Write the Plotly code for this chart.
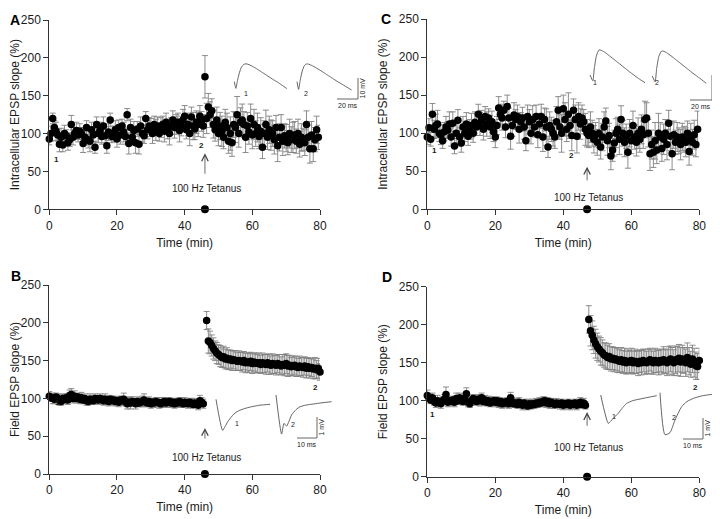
import plotly.graph_objects as go

# The page body adds an 8 px margin, so the figure is drawn 8 px in from the window corner.
OFF = 8
W, H = 720 - OFF, 519 - OFF
FONT = "Liberation Sans, Arial, sans-serif"

# ---------------- data (time step 0.5 min) ----------------
STEP = 0.5

# Panel A: intracellular EPSP slope (%), from t = 0
A_START = 0.0
A_SLOPE = [
    93, 100, 120, 108, 103, 98, 86, 95, 85, 100, 97, 88, 92, 112, 95, 100, 104, 98, 103, 100,
    87, 95, 108, 92, 90, 105, 98, 82, 112, 100, 104, 96, 110, 97, 84, 102, 118, 96, 100, 105,
    93, 108, 98, 110, 102, 96, 125, 87, 108, 95, 104, 88, 106, 86, 110, 100, 97, 120, 105, 110,
    108, 100, 112, 105, 110, 100, 108, 112, 103, 115, 106, 100, 110, 118, 108, 112, 115, 104, 110, 118,
    123, 105, 112, 100, 122, 110, 106, 115, 112, 123, 116, 110, 175, 120, 135, 125, 130, 112, 105, 118,
    100, 110, 103, 95, 115, 108, 90, 100, 88, 112, 108, 125, 100, 115, 118, 112, 95, 110, 102, 120,
    98, 112, 100, 108, 96, 103, 82, 100, 112, 95, 105, 98, 100, 92, 108, 84, 95, 108, 90, 97,
    94, 88, 100, 92, 95, 98, 90, 100, 86, 95, 92, 88, 112, 95, 80, 98, 80, 92, 105, 95,
]
A_SEM = [
    8, 10, 7, 9, 12, 8, 10, 12, 9, 11, 8, 10, 9, 12, 10, 8, 11, 9, 10, 8,
    12, 10, 9, 11, 14, 10, 9, 8, 10, 12, 11, 10, 12, 9, 10, 11, 9, 8, 10, 12,
    11, 10, 12, 9, 13, 10, 8, 14, 11, 10, 12, 14, 10, 13, 12, 11, 10, 9, 12, 11,
    12, 13, 11, 14, 12, 10, 13, 11, 14, 12, 13, 15, 11, 12, 14, 13, 12, 15, 13, 14,
    14, 12, 15, 16, 13, 18, 14, 15, 16, 14, 13, 15, 28, 20, 18, 17, 16, 18, 15, 17,
    16, 18, 20, 15, 17, 19, 16, 22, 18, 17, 20, 24, 18, 19, 21, 17, 20, 18, 16, 19,
    18, 20, 17, 19, 16, 18, 15, 17, 19, 16, 18, 20, 17, 19, 16, 21, 18, 17, 19, 16,
    18, 16, 19, 17, 20, 18, 16, 19, 17, 18, 15, 17, 18, 16, 19, 18, 17, 16, 18, 16,
]

# Panel C: intracellular EPSP slope (%), from t = 0
C_START = 0.0
C_SLOPE = [
    95, 107, 92, 125, 105, 110, 112, 100, 98, 90, 102, 108, 104, 112, 95, 113, 83, 100, 117, 95,
    87, 108, 100, 112, 96, 105, 110, 100, 114, 108, 125, 112, 118, 105, 122, 112, 120, 108, 115, 102,
    95, 110, 133, 125, 120, 130, 108, 135, 120, 96, 110, 124, 118, 122, 105, 115, 120, 108, 90, 122,
    115, 100, 118, 108, 122, 98, 112, 122, 95, 118, 108, 82, 110, 105, 100, 95, 115, 130, 108, 100,
    132, 118, 105, 125, 110, 97, 130, 118, 96, 122, 112, 120, 115, 105, 100, 97, 108, 100, 92, 98,
    88, 100, 82, 95, 108, 116, 90, 97, 70, 78, 87, 100, 105, 92, 118, 100, 88, 96, 75, 100,
    90, 110, 95, 88, 100, 92, 105, 98, 118, 120, 100, 73, 85, 75, 90, 78, 100, 95, 80, 92,
    100, 85, 113, 96, 73, 98, 88, 95, 90, 85, 95, 92, 88, 100, 76, 93, 88, 98, 85, 105,
]
C_SEM = [
    10, 12, 9, 14, 12, 15, 18, 11, 13, 10, 12, 14, 11, 16, 12, 15, 10, 13, 14, 12,
    12, 14, 11, 15, 12, 13, 16, 12, 14, 11, 13, 15, 12, 14, 13, 16, 12, 15, 14, 13,
    14, 12, 15, 13, 16, 12, 14, 15, 13, 17, 14, 16, 13, 15, 18, 12, 14, 16, 13, 15,
    16, 14, 18, 13, 15, 17, 14, 16, 19, 15, 24, 14, 18, 16, 17, 15, 20, 18, 16, 25,
    18, 22, 16, 28, 17, 20, 15, 19, 22, 18, 20, 17, 16, 21, 18, 16, 20, 17, 18, 16,
    17, 19, 16, 18, 20, 17, 19, 16, 18, 15, 17, 19, 16, 20, 18, 17, 19, 16, 21, 18,
    17, 19, 16, 18, 20, 17, 19, 18, 24, 20, 18, 22, 19, 20, 24, 18, 26, 19, 17, 20,
    18, 20, 17, 19, 21, 18, 16, 19, 17, 20, 18, 17, 19, 16, 18, 20, 17, 19, 16, 24,
]

# Panel B: field EPSP slope (%), before / after tetanus
B_PRE_START = 0.0
B_PRE = [
    103, 101, 100, 99, 102, 100, 98, 96, 100, 99, 101, 98, 104, 105, 100, 103, 100, 102, 99, 101,
    98, 100, 97, 96, 99, 98, 97, 100, 99, 98, 100, 99, 97, 99, 98, 96, 99, 97, 98, 96,
    97, 95, 98, 97, 99, 96, 93, 95, 94, 96, 95, 93, 96, 94, 95, 96, 98, 95, 94, 96,
    93, 95, 94, 96, 95, 94, 93, 95, 96, 94, 95, 96, 94, 95, 93, 95, 94, 96, 95, 93,
    95, 94, 93, 95, 94, 92, 94, 93, 91, 97, 95, 93,
]
B_PRE_SEM = [
    6, 5, 7, 6, 5, 6, 7, 5, 6, 6, 5, 6, 7, 8, 6, 7, 6, 5, 6, 7,
    5, 6, 6, 5, 7, 6, 5, 6, 5, 6, 6, 5, 6, 7, 5, 6, 5, 6, 5, 6,
    5, 6, 5, 6, 8, 6, 7, 6, 8, 6, 5, 7, 6, 5, 6, 7, 8, 6, 5, 6,
    6, 5, 6, 5, 6, 7, 5, 6, 5, 6, 6, 5, 6, 5, 6, 5, 6, 5, 6, 5,
    6, 5, 6, 5, 6, 5, 6, 5, 6, 7, 6, 6,
]
B_POST_START = 46.5
B_POST = [
    203, 176, 174, 170, 166, 163, 160, 158, 156, 154, 155, 152, 153, 151, 152, 150, 151, 150, 149, 150,
    149, 148, 150, 147, 148, 147, 149, 146, 148, 147, 146, 147, 145, 147, 146, 145, 147, 145, 144, 146,
    145, 144, 146, 145, 143, 145, 144, 146, 143, 144, 142, 143, 144, 142, 141, 143, 142, 141, 143, 140,
    142, 140, 141, 139, 140, 138, 140, 135,
]
B_POST_SEM = [
    12, 16, 15, 14, 14, 13, 14, 13, 14, 13, 14, 13, 14, 13, 12, 13, 12, 13, 12, 13,
    12, 13, 12, 13, 12, 13, 12, 13, 12, 13, 12, 13, 12, 13, 12, 13, 12, 13, 12, 13,
    12, 13, 12, 13, 12, 13, 14, 13, 14, 13, 12, 13, 12, 13, 12, 13, 12, 13, 12, 13,
    12, 13, 12, 13, 14, 12, 13, 11,
]

# Panel D: field EPSP slope (%), before / after tetanus
D_PRE_START = 0.0
D_PRE = [
    107, 103, 101, 104, 99, 97, 100, 98, 96, 100, 102, 108, 98, 100, 99, 101, 98, 103, 100, 104,
    101, 99, 103, 109, 98, 96, 100, 103, 101, 99, 102, 100, 104, 99, 101, 98, 100, 97, 99, 100,
    98, 100, 97, 99, 96, 98, 97, 99, 96, 104, 98, 96, 97, 95, 98, 96, 94, 97, 95, 93,
    96, 94, 96, 95, 97, 96, 98, 97, 99, 100, 97, 99, 96, 98, 96, 95, 97, 96, 95, 97,
    94, 96, 95, 97, 94, 96, 95, 97, 94, 96, 98, 95, 97, 94,
]
D_PRE_SEM = [
    7, 6, 5, 6, 5, 6, 7, 5, 6, 5, 6, 10, 6, 5, 6, 5, 6, 7, 5, 6,
    6, 5, 6, 8, 6, 5, 6, 5, 6, 5, 6, 7, 6, 5, 6, 5, 6, 5, 6, 5,
    6, 5, 6, 5, 6, 5, 6, 5, 6, 7, 6, 5, 6, 5, 6, 5, 6, 5, 6, 5,
    6, 5, 6, 5, 6, 5, 6, 5, 6, 5, 6, 5, 6, 5, 6, 5, 6, 5, 6, 5,
    6, 5, 6, 5, 6, 5, 6, 5, 6, 5, 6, 5, 6, 5,
]
D_POST_START = 47.5
D_POST = [
    207, 192, 186, 180, 175, 171, 168, 165, 163, 160, 159, 157, 158, 155, 156, 154, 155, 153, 152, 154,
    151, 153, 150, 152, 151, 153, 150, 152, 151, 149, 152, 150, 153, 151, 150, 152, 154, 151, 150, 153,
    152, 150, 153, 151, 154, 152, 150, 153, 155, 152, 150, 154, 152, 156, 151, 155, 153, 150, 157, 152,
    148, 155, 150, 146, 145, 153,
]
D_POST_SEM = [
    18, 20, 19, 18, 19, 18, 17, 18, 17, 16, 17, 16, 17, 16, 15, 16, 15, 16, 15, 16,
    15, 16, 15, 16, 15, 16, 15, 16, 15, 16, 15, 16, 15, 16, 15, 16, 15, 16, 15, 16,
    15, 16, 15, 16, 17, 16, 17, 18, 17, 18, 17, 18, 19, 18, 19, 18, 17, 18, 19, 18,
    17, 18, 19, 18, 17, 16,
]

TETANUS_TIME = {"A": 46, "B": 46, "C": 47, "D": 47}

X_TICKS = [0, 20, 40, 60, 80]
Y_TICKS = [0, 50, 100, 150, 200, 250]
Y_TITLE_TOP = "Intracellular EPSP slope (%)"
Y_TITLE_BOTTOM = "Field EPSP slope (%)"
X_TITLE = "Time (min)"

# Example traces (time in ms, potential in mV)
A1_T = [0, 1.5, 3, 5, 7, 9, 11, 14, 18, 22, 26, 30, 34, 38, 42, 46, 50]
A1_MV = [3.5, 0.3, 4, 8, 10.6, 11.7, 12, 11.6, 10.6, 9.4, 8.1, 6.8, 5.5, 4.2, 3, 1.6, 0.2]
A2_T = [0, 1.5, 3, 5, 7, 9, 11, 14, 18, 22, 26, 30, 34, 38, 42, 47, 52]
A2_MV = [4, 0.3, 4.5, 9, 11.6, 12.4, 12.3, 11.7, 10.6, 9.4, 8.1, 6.8, 5.5, 4.2, 3, 1.5, 0]
C1_T = [0, 2.5, 4, 6, 8.2, 10, 13, 17, 21, 25, 29, 33, 37, 41, 45, 50]
C1_MV = [3.1, 0.8, 6, 11, 13.1, 13, 12.3, 11, 9.6, 8.2, 6.8, 5.4, 4, 2.7, 1.4, 0]
C2_T = [0, 2.5, 4, 6, 8.5, 10.5, 13, 17, 21, 25, 29, 33, 37, 41, 45, 49]
C2_MV = [2.9, 0.6, 6, 10.8, 12.9, 12.8, 12.2, 11, 9.6, 8.2, 6.8, 5.4, 4, 2.7, 1.4, 0]
B1_T = [0, 3.3, 4.5, 6, 8, 10, 12.5, 15, 18.5, 22, 27]
B1_MV = [0, -1.48, -1.3, -1.05, -0.8, -0.62, -0.5, -0.42, -0.34, -0.28, -0.24]
B2_T = [0, 2.8, 4, 5.3, 6.5, 7.8, 10, 12, 15, 18.7, 23, 27.8]
B2_MV = [0, -1.86, -1.35, -1.48, -1.25, -0.95, -0.7, -0.56, -0.48, -0.43, -0.37, -0.32]
D1_T = [0, 3.8, 5, 6.3, 8.8, 11, 13, 16, 21.3, 28]
D1_MV = [0, -1.35, -1.25, -1.11, -0.87, -0.6, -0.4, -0.27, -0.16, -0.03]
D2_T = [0, 2.5, 5, 7.5, 10.8, 13.5, 16.7, 21, 27.5]
D2_MV = [0, -2.0, -1.9, -1.3, -0.67, -0.42, -0.27, -0.15, -0.06]

SCALE_A = (20, 10, "20 ms", "10 mV")
SCALE_C = (20, 10, "20 ms", "10 mV")
SCALE_B = (10, 1, "10 ms", "1 mV")
SCALE_D = (10, 1, "10 ms", "1 mV")

# ---------------- layout helpers (positions given in window pixels) ----------------
def pxx(px):
    return min(max((px - OFF) / W, 0.0), 1.0)


def pxy(py):
    return min(max(1 - (py - OFF) / H, 0.0), 1.0)


fig = go.Figure()

AX_COLOR = "#333333"
TXT = "#1a1a1a"

# main panels: (xaxis id, yaxis id, x px range, y px range (bottom, top), y title)
MAIN = {
    "A": ("x", "y", (49.3, 320.0), (209.3, 20.0), Y_TITLE_TOP),
    "B": ("x2", "y2", (49.3, 320.0), (474.0, 285.0), Y_TITLE_BOTTOM),
    "C": ("x3", "y3", (427.3, 699.3), (209.3, 19.0), Y_TITLE_TOP),
    "D": ("x4", "y4", (427.3, 699.3), (476.7, 286.7), Y_TITLE_BOTTOM),
}

layout_axes = {}
for key, (xa, ya, (xl, xr), (yb, yt), ytitle) in MAIN.items():
    xn = "xaxis" + xa[1:]
    yn = "yaxis" + ya[1:]
    common = dict(
        showline=True, linecolor=AX_COLOR, linewidth=1, ticks="outside", ticklen=5,
        tickcolor=AX_COLOR, tickwidth=1, showgrid=False, zeroline=False, automargin=False,
        tickfont=dict(size=12, color=TXT, family=FONT), fixedrange=True,
    )
    layout_axes[xn] = dict(common, domain=[pxx(xl), pxx(xr)], range=[0, 80], tickvals=X_TICKS,
                           anchor=ya, title=dict(text=X_TITLE, font=dict(size=12, color=TXT), standoff=6))
    layout_axes[yn] = dict(common, domain=[pxy(yb), pxy(yt)], range=[0, 250], tickvals=Y_TICKS,
                           anchor=xa, title=dict(text=ytitle, font=dict(size=12, color=TXT), standoff=8))
fig.update_layout(**layout_axes)


def series(start, vals):
    return [start + STEP * i for i in range(len(vals))]


def add_points(xa, ya, start, vals, sem):
    fig.add_trace(go.Scatter(
        x=series(start, vals), y=vals, mode="markers", xaxis=xa, yaxis=ya,
        marker=dict(color="black", size=7.5),
        error_y=dict(type="data", array=sem, color="#808080", thickness=0.9, width=3),
        cliponaxis=False, showlegend=False, hoverinfo="skip"))


add_points("x", "y", A_START, A_SLOPE, A_SEM)
add_points("x3", "y3", C_START, C_SLOPE, C_SEM)
add_points("x2", "y2", B_PRE_START, B_PRE, B_PRE_SEM)
add_points("x2", "y2", B_POST_START, B_POST, B_POST_SEM)
add_points("x4", "y4", D_PRE_START, D_PRE, D_PRE_SEM)
add_points("x4", "y4", D_POST_START, D_POST, D_POST_SEM)

# tetanus marker on the time axis
for key in "ABCD":
    xa, ya = MAIN[key][0], MAIN[key][1]
    fig.add_trace(go.Scatter(x=[TETANUS_TIME[key]], y=[0], mode="markers", xaxis=xa, yaxis=ya,
                             marker=dict(color="black", size=8), cliponaxis=False,
                             showlegend=False, hoverinfo="skip"))

# ---------------- inset example traces ----------------
inset_n = [4]


def add_inset(origin, ppx, ppy, width_px, up_px, down_px):
    inset_n[0] += 1
    n = inset_n[0]
    x0, y0 = origin
    width_px = min(width_px, 720 - x0 - 0.5)
    fig.update_layout({
        f"xaxis{n}": dict(domain=[pxx(x0 - 2), pxx(x0 + width_px)], range=[-2 / ppx, width_px / ppx],
                          visible=False, anchor=f"y{n}", fixedrange=True, automargin=False),
        f"yaxis{n}": dict(domain=[pxy(y0 + down_px), pxy(y0 - up_px)], range=[-down_px / ppy, up_px / ppy],
                          visible=False, anchor=f"x{n}", fixedrange=True, automargin=False),
    })
    return f"x{n}", f"y{n}"


TRACE_LINE = dict(color="#555555", width=0.9, shape="spline", smoothing=0.6)


def add_wave(t, mv, origin, ppx, ppy):
    xa, ya = add_inset(origin, ppx, ppy, max(t) * ppx + 3, 40, 50)
    fig.add_trace(go.Scatter(x=t, y=mv, mode="lines", xaxis=xa, yaxis=ya, line=TRACE_LINE,
                             cliponaxis=False, showlegend=False, hoverinfo="skip"))


def add_scalebar(scale, corner, ppx, ppy):
    tlen, vlen, tlab, vlab = scale
    w = tlen * ppx
    h = vlen * ppy
    xa, ya = add_inset((corner[0] - w, corner[1]), ppx, ppy, w + 3, h + 4, 4)
    fig.add_trace(go.Scatter(x=[0, tlen, tlen], y=[0, 0, vlen], mode="lines", xaxis=xa, yaxis=ya,
                             line=dict(color="#555555", width=0.9), cliponaxis=False,
                             showlegend=False, hoverinfo="skip"))
    fig.add_annotation(x=tlen / 2, y=0, xref=xa, yref=ya, text=tlab, showarrow=False,
                       yanchor="top", yshift=-1, font=dict(size=7, color=TXT))
    fig.add_annotation(x=tlen, y=vlen / 2, xref=xa, yref=ya, text=vlab, showarrow=False,
                       textangle=-90, xanchor="center", xshift=4, font=dict(size=7, color=TXT))


# panel A
add_wave(A1_T, A1_MV, (234.3, 89.0), 1.05, 2.1)
add_wave(A2_T, A2_MV, (297.0, 90.0), 1.05, 2.1)
add_scalebar(SCALE_A, (358.0, 99.0), 1.05, 2.1)
# panel C
add_wave(C1_T, C1_MV, (590.0, 82.7), 1.1, 2.5)
add_wave(C2_T, C2_MV, (652.3, 83.3), 1.1, 2.5)
add_scalebar(SCALE_C, (712.0, 100.0), 1.1, 2.5)
# panel B
add_wave(B1_T, B1_MV, (216.0, 399.3), 2.0, 21.0)
add_wave(B2_T, B2_MV, (276.0, 395.0), 2.0, 21.0)
add_scalebar(SCALE_B, (317.0, 438.0), 2.0, 21.0)
# panel D
add_wave(D1_T, D1_MV, (600.7, 395.0), 2.0, 21.0)
add_wave(D2_T, D2_MV, (660.0, 392.7), 2.0, 21.0)
add_scalebar(SCALE_D, (703.0, 439.0), 2.0, 21.0)

# ---------------- annotations ----------------
ann = []
# panel letters
for letter, (px, py) in {"A": (8, 10), "C": (386, 9), "B": (9, 276), "D": (387, 277)}.items():
    ann.append(dict(x=pxx(px), y=pxy(py), xref="paper", yref="paper", text=f"<b>{letter}</b>",
                    showarrow=False, font=dict(size=14, color="black")))

# tetanus arrows and labels: (head y, tail y, text y)
ARROWS = {"A": (74, 45, 28), "B": (61, 45, 22), "C": (56, 36, 16), "D": (85, 65, 39)}
for key, (yh, yt, ytxt) in ARROWS.items():
    xa, ya = MAIN[key][0], MAIN[key][1]
    xt = TETANUS_TIME[key]
    ann.append(dict(x=xt, y=yh, ax=xt, ay=yt, xref=xa, yref=ya, axref=xa, ayref=ya, text="",
                    showarrow=True, arrowhead=5, arrowsize=1.6, arrowwidth=0.8, arrowcolor="#444"))
    ann.append(dict(x=xt + 0.5, y=ytxt, xref=xa, yref=ya, text="100 Hz Tetanus", showarrow=False,
                    font=dict(size=10, color=TXT)))

# sample-point labels in the main plots
POINT_LABELS = {"A": [(2, 66, "1"), (45, 84, "2")], "C": [(2, 77, "1"), (42.5, 71, "2")],
                "B": [(2.5, 95, "1"), (78.7, 115, "2")], "D": [(1.4, 82, "1"), (79, 118, "2")]}
for key, items in POINT_LABELS.items():
    xa, ya = MAIN[key][0], MAIN[key][1]
    for x, y, t in items:
        ann.append(dict(x=x, y=y, xref=xa, yref=ya, text=f"<b>{t}</b>", showarrow=False,
                        font=dict(size=8, color=TXT)))

# labels beside example traces (pixel positions)
TRACE_LABELS = [(242, 88, "1"), (306, 88, "2"), (599, 77, "1"), (661, 77, "2"),
                (233, 429, "1"), (293, 430, "2"), (618, 422, "1"), (678, 423, "2")]
for px, py, t in TRACE_LABELS:
    ann.append(dict(x=pxx(px), y=pxy(py), xref="paper", yref="paper", text=t, showarrow=False,
                    font=dict(size=7, color=TXT)))

for a in ann:
    fig.add_annotation(**a)

fig.update_layout(
    width=W, height=H, margin=dict(l=0, r=0, t=0, b=0, pad=0, autoexpand=False),
    paper_bgcolor="white", plot_bgcolor="rgba(0,0,0,0)",
    font=dict(family=FONT, color=TXT), showlegend=False,
)

fig.write_html("out.html")
